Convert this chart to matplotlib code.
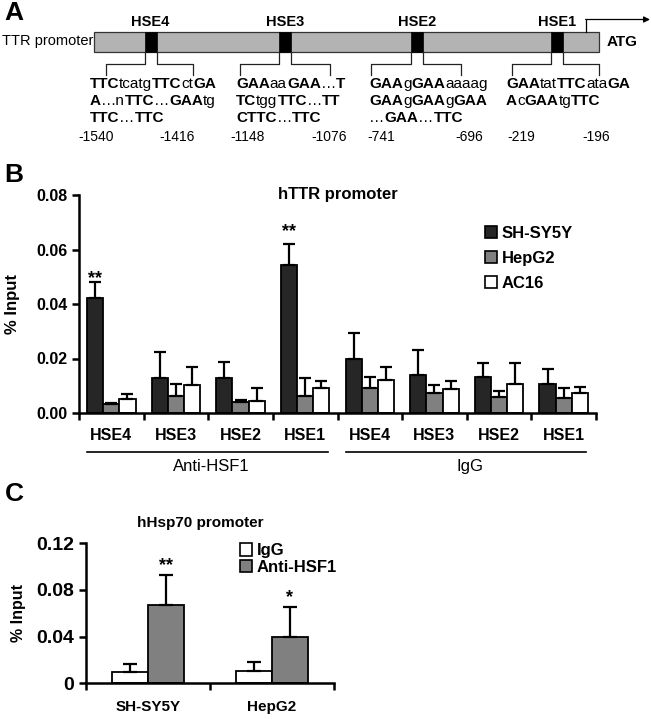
import re
import numpy as np
import matplotlib
matplotlib.use('Agg')
import matplotlib.pyplot as plt
from matplotlib.patches import Rectangle, Patch
from matplotlib import transforms

plt.rcParams['font.family'] = ['Liberation Sans', 'DejaVu Sans']

# ---------------- Panel A data ----------------
sites = ['HSE4', 'HSE3', 'HSE2', 'HSE1']
site_starts = ['-1540', '-1148', '-741', '-219']
site_ends = ['-1416', '-1076', '-696', '-196']
site_seqs = [
    ['TTCtcatgTTCctGA', 'A…nTTC…GAAtg', 'TTC…TTC'],
    ['GAAaaGAA…T', 'TCtggTTC…TT', 'CTTC…TTC'],
    ['GAAgGAAaaaag', 'GAAgGAAgGAA', '…GAA…TTC'],
    ['GAAtatTTCataGA', 'AcGAAtgTTC'],
]

# ---------------- Panel B data ----------------
groups_b = ['HSE4', 'HSE3', 'HSE2', 'HSE1', 'HSE4', 'HSE3', 'HSE2', 'HSE1']
antibodies_b = ['Anti-HSF1', 'IgG']
cells_b = ['SH-SY5Y', 'HepG2', 'AC16']
sh_sy5y = [0.0422, 0.0130, 0.0130, 0.0542, 0.0200, 0.0141, 0.0131, 0.0107]
sh_sy5y_err = [0.0060, 0.0093, 0.0056, 0.0078, 0.0094, 0.0089, 0.0052, 0.0055]
hepg2 = [0.0033, 0.0063, 0.0040, 0.0062, 0.0091, 0.0075, 0.0058, 0.0056]
hepg2_err = [0.0004, 0.0044, 0.0008, 0.0068, 0.0042, 0.0026, 0.0022, 0.0035]
ac16 = [0.0051, 0.0101, 0.0045, 0.0093, 0.0121, 0.0088, 0.0107, 0.0074]
ac16_err = [0.0017, 0.0066, 0.0048, 0.0026, 0.0047, 0.0028, 0.0076, 0.0023]
sig_b = ['**', '', '', '**', '', '', '', '']

# ---------------- Panel C data ----------------
cells_c = ['SH-SY5Y', 'HepG2']
igg_c = [0.0097, 0.0105]
igg_c_err = [0.0071, 0.0078]
anti_c = [0.0671, 0.0394]
anti_c_err = [0.0254, 0.0260]
sig_c = ['**', '*']

W, H = 651, 719
fig = plt.figure(figsize=(W / 100, H / 100), dpi=100)

# overlay axes in pixel coordinates for the diagram and panel letters
ax0 = fig.add_axes([0, 0, 1, 1])
ax0.set_xlim(0, W)
ax0.set_ylim(H, 0)
ax0.axis('off')

for letter, (lx, ly) in zip(['A', 'B', 'C'], [(14, 13), (14, 175), (14, 494)]):
    ax0.text(lx, ly, letter, fontsize=19, fontweight='bold', ha='center', va='center')

# ---- Panel A diagram ----
ax0.add_patch(Rectangle((94, 32), 505, 19.5, facecolor='#b3b3b3', edgecolor='#333333', lw=0.9, zorder=1))
box_x = [(144.5, 156.5), (279, 291), (411, 423), (551, 563)]
bracket_x = [(106, 193), (240, 330), (371, 461), (512, 599)]
seq_x = [89.6, 236, 369, 506]
num_x = [(96, 177), (248, 329), (381, 469), (521, 596)]
line_y = [84, 101, 118.5]


def seq_line(ax, x, y, s, size):
    parts = re.findall(r'[A-Z]+|[^A-Z]+', s)
    prev = None
    for p in parts:
        w = 'bold' if p[0].isupper() else 'normal'
        if prev is None:
            prev = ax.text(x, y, p, fontsize=size, fontweight=w, ha='left', va='center')
        else:
            prev = ax.annotate(p, xy=(1, 0.5), xycoords=prev, fontsize=size,
                               fontweight=w, ha='left', va='center')


for i, name in enumerate(sites):
    bx0, bx1 = box_x[i]
    ax0.add_patch(Rectangle((bx0, 32), bx1 - bx0, 19.5, facecolor='black', edgecolor='black', lw=0.5, zorder=2))
    ax0.text((bx0 + bx1) / 2, 22, name, fontsize=10.5, fontweight='bold', ha='center', va='center')
    lx, rx = bracket_x[i]
    ax0.plot([bx0, bx0, lx, lx], [51.5, 64, 64, 75], color='#222222', lw=0.9)
    ax0.plot([bx1, bx1, rx, rx], [51.5, 64, 64, 75], color='#222222', lw=0.9)
    for j, s in enumerate(site_seqs[i]):
        seq_line(ax0, seq_x[i], line_y[j], s, 11)
    ax0.text(num_x[i][0], 137, site_starts[i], fontsize=10, ha='center', va='center')
    ax0.text(num_x[i][1], 137, site_ends[i], fontsize=10, ha='center', va='center')

ax0.text(2, 41.5, 'TTR promoter', fontsize=10.5, ha='left', va='center')
ax0.text(607, 41.5, 'ATG', fontsize=11, fontweight='bold', ha='left', va='center')
ax0.plot([586, 586], [32, 19.5], color='black', lw=0.9)
ax0.annotate('', xy=(650, 19.5), xytext=(585.6, 19.5),
             arrowprops=dict(arrowstyle='-|>', color='black', lw=0.9, mutation_scale=9,
                             shrinkA=0, shrinkB=0))

# ---------------- Panel B ----------------
axb = fig.add_axes([79 / W, 1 - 413 / H, 517 / W, 218 / H])
x = np.arange(len(groups_b))
bw = 0.25
series = [(sh_sy5y, sh_sy5y_err, '#262626'),
          (hepg2, hepg2_err, '#808080'),
          (ac16, ac16_err, 'white')]
for k, (vals, errs, col) in enumerate(series):
    xs = x + (k - 1) * bw
    axb.bar(xs, vals, bw, color=col, edgecolor='black', lw=1.3, label=cells_b[k], zorder=2)
    axb.errorbar(xs, vals, yerr=[np.zeros(len(vals)), errs], fmt='none', ecolor='black',
                 elinewidth=1.6, capsize=4, capthick=1.6, zorder=3)

sig_off_b = [2, 0, 0, 9, 0, 0, 0, 0]
for i, s in enumerate(sig_b):
    if s:
        axb.annotate(s, xy=(x[i] - bw, sh_sy5y[i] + sh_sy5y_err[i]), xytext=(0, sig_off_b[i]),
                     textcoords='offset points', ha='center', va='center',
                     fontsize=13, fontweight='bold')

axb.set_xlim(-0.5, len(groups_b) - 0.5)
axb.set_ylim(0, 0.08)
yt = [0, 0.02, 0.04, 0.06, 0.08]
axb.set_yticks(yt)
axb.set_yticklabels(['%.2f' % v for v in yt], fontweight='bold', fontsize=11.5)
axb.set_xticks(np.arange(-0.5, len(groups_b), 1))
axb.set_xticklabels([])
axb.set_xticks(x, minor=True)
axb.set_xticklabels(groups_b, minor=True, fontweight='bold', fontsize=11.5)
axb.tick_params(axis='x', which='minor', length=0, pad=11)
axb.tick_params(axis='both', which='major', direction='out', length=5, width=1.8)
for sp in ['top', 'right']:
    axb.spines[sp].set_visible(False)
for sp in ['left', 'bottom']:
    axb.spines[sp].set_linewidth(1.8)
axb.set_ylabel('% Input', fontsize=12, fontweight='bold')
axb.yaxis.set_label_coords(-0.114, 0.5)

blend = transforms.blended_transform_factory(axb.transData, axb.transAxes)
for gi, lab in enumerate(antibodies_b):
    x0 = gi * 4 - 0.37
    x1 = gi * 4 + 3.35
    axb.plot([x0, x1], [-0.18, -0.18], transform=blend, clip_on=False, color='black', lw=1.2)
    axb.text(gi * 4 + 1.55, -0.245, lab, transform=blend, ha='center', va='center', fontsize=12)

axb.text(0.5, 1.0, 'hTTR promoter', transform=axb.transAxes, ha='center', va='center',
         fontsize=12, fontweight='bold')
hb = [Patch(facecolor=c, edgecolor='black', lw=1.2) for _, _, c in series]
axb.legend(hb, cells_b, loc='upper left', bbox_to_anchor=(0.785, 0.86), frameon=False,
           handlelength=0.75, handleheight=0.75, handletextpad=0.25, labelspacing=0.6,
           borderaxespad=0, borderpad=0, prop=dict(weight='bold', size=12))

# ---------------- Panel C ----------------
axc = fig.add_axes([86 / W, 1 - 683.3 / H, 248 / W, 140 / H])
xc = np.arange(len(cells_c))
wc = 0.29
axc.bar(xc - wc / 2, igg_c, wc, color='white', edgecolor='black', lw=1.3, zorder=2)
axc.bar(xc + wc / 2, anti_c, wc, color='#808080', edgecolor='black', lw=1.3, zorder=2)
axc.errorbar(xc - wc / 2, igg_c, yerr=[np.zeros(len(xc)), igg_c_err], fmt='none', ecolor='black',
             elinewidth=1.6, capsize=5, capthick=1.6, zorder=3)
axc.errorbar(xc + wc / 2, anti_c, yerr=[np.zeros(len(xc)), anti_c_err], fmt='none', ecolor='black',
             elinewidth=1.6, capsize=5, capthick=1.6, zorder=3)
sig_off_c = [7, 6.5]
for i, s in enumerate(sig_c):
    axc.annotate(s, xy=(xc[i] + wc / 2, anti_c[i] + anti_c_err[i]), xytext=(0, sig_off_c[i]),
                 textcoords='offset points', ha='center', va='center', fontsize=13, fontweight='bold')

axc.set_xlim(-0.5, len(cells_c) - 0.5)
axc.set_ylim(0, 0.12)
ytc = [0, 0.04, 0.08, 0.12]
axc.set_yticks(ytc)
axc.set_yticklabels(['0', '0.04', '0.08', '0.12'], fontweight='bold', fontsize=14)
axc.set_xticks(np.arange(-0.5, len(cells_c), 1))
axc.set_xticklabels([])
axc.set_xticks(xc, minor=True)
axc.set_xticklabels(cells_c, minor=True, fontweight='bold', fontsize=11)
axc.tick_params(axis='x', which='minor', length=0, pad=12)
axc.tick_params(axis='both', which='major', direction='out', length=5, width=1.8)
for sp in ['top', 'right']:
    axc.spines[sp].set_visible(False)
for sp in ['left', 'bottom']:
    axc.spines[sp].set_linewidth(1.8)
axc.set_ylabel('% Input', fontsize=11.5, fontweight='bold')
axc.yaxis.set_label_coords(-0.242, 0.5)
axc.text(0.46, 1.145, 'hHsp70 promoter', transform=axc.transAxes, ha='center', va='center',
         fontsize=11, fontweight='bold')
hc = [Patch(facecolor='white', edgecolor='black', lw=1.2),
      Patch(facecolor='#808080', edgecolor='black', lw=1.2)]
axc.legend(hc, ['IgG', 'Anti-HSF1'], loc='upper left', bbox_to_anchor=(0.62, 1.0), frameon=False,
           handlelength=0.75, handleheight=0.75, handletextpad=0.25, labelspacing=0.1,
           borderaxespad=0, borderpad=0, prop=dict(weight='bold', size=12))

fig.savefig('out.png', dpi=100)
